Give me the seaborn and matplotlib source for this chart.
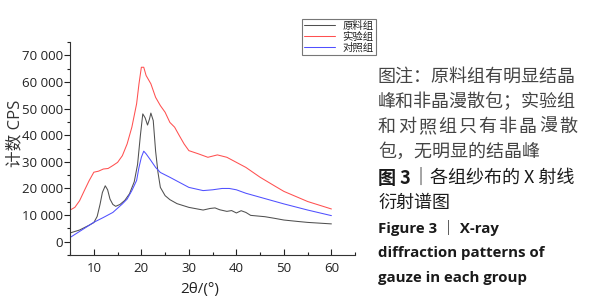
import pandas as pd
import matplotlib.pyplot as plt
import numpy as np
import seaborn as sns
from matplotlib.ticker import FuncFormatter, MultipleLocator

sns.set_style("ticks")
plt.rcParams['font.family'] = ['Open Sans', 'Noto Sans CJK SC', 'DejaVu Sans']

# 原料组 (raw material)
x_raw = [5, 7, 8, 9, 10, 10.7, 11.3, 11.8, 12.4, 12.9, 13.4, 14, 14.6, 15.5, 16.5, 17.5, 18.5, 19.2,
         19.8, 20.3, 20.8, 21.3, 21.7, 22.0, 22.5, 23.0, 23.5, 24.0, 25, 26, 27.5, 30, 33, 34.5,
         35.5, 36.5, 38, 39, 40, 41, 42, 43, 46, 48, 50, 53, 55, 60]
y_raw = [3300, 4400, 5300, 6200, 7200, 9500, 14000, 18500, 21000, 19500, 16000, 14000, 13300, 14000,
         15500, 18000, 22500, 29000, 40000, 48000, 46500, 43800, 46000, 48300, 45500, 34000, 26000,
         20400, 17300, 15800, 14300, 12900, 11900, 12500, 12700, 12000, 11400, 11700, 10800, 11650,
         11000, 9900, 9400, 8800, 8150, 7600, 7260, 6700]

# 实验组 (experimental)
x_exp = [5, 6, 7, 8, 9, 10, 11, 12, 13, 14, 15, 16, 17, 18, 19, 19.5, 20, 20.5, 21, 22, 23, 24, 25,
         26, 27, 28, 29, 30, 32, 34, 36, 38, 40, 42, 45, 48, 50, 55, 60]
y_exp = [11900, 12900, 15400, 19200, 22900, 26100, 26500, 27300, 27500, 28600, 29800, 32300, 36700,
         43000, 51800, 59300, 65500, 65500, 62400, 59300, 54200, 51100, 48600, 44800, 43000, 39800,
         36700, 34200, 33000, 31700, 32600, 31700, 29800, 27900, 24200, 21000, 18900, 15100, 12300]

# 对照组 (control)
x_ctl = [5, 8, 10, 12, 14, 16, 17, 18, 19, 19.5, 20, 20.5, 21, 22, 23, 24, 26, 28, 30, 33, 35, 37,
         38.5, 40, 42, 45, 50, 55, 60]
y_ctl = [1600, 5000, 7300, 9100, 11000, 14200, 16000, 19200, 23000, 27900, 31700, 34000, 33000, 30500,
         27900, 26000, 24200, 22300, 20400, 19200, 19500, 20000, 20000, 19500, 18200, 16700, 14200,
         11900, 9800]

groups = ['原料组', '实验组', '对照组']
colors = ['#505050', '#ff5050', '#5050ff']

df = pd.concat([
    pd.DataFrame({'x': x_raw, 'y': y_raw, 'group': groups[0]}),
    pd.DataFrame({'x': x_exp, 'y': y_exp, 'group': groups[1]}),
    pd.DataFrame({'x': x_ctl, 'y': y_ctl, 'group': groups[2]}),
])

fig = plt.figure(figsize=(5.89, 3.04), dpi=100)
ax = fig.add_axes([0.119, 0.161, 0.484, 0.701])

sns.lineplot(data=df, x='x', y='y', hue='group', palette=dict(zip(groups, colors)),
             estimator=None, sort=False, linewidth=0.75, ax=ax, legend=True)

ax.set_xlim(5, 65)
ax.set_ylim(-5000, 75000)
ax.xaxis.set_minor_locator(MultipleLocator(5))
ax.yaxis.set_minor_locator(MultipleLocator(5000))
ax.set_xticks([10, 20, 30, 40, 50, 60])
ax.set_yticks(range(0, 70001, 10000))
ax.yaxis.set_major_formatter(FuncFormatter(lambda v, p: f'{int(v):,}'.replace(',', ' ')))
ax.tick_params(axis='x', which='both', direction='in', labelsize=9.5, colors='#222222', pad=5)
ax.tick_params(axis='x', which='major', length=4, width=0.8)
ax.tick_params(axis='x', which='minor', length=2.5, width=0.8)
ax.tick_params(axis='y', which='both', direction='out', labelsize=9.5, colors='#222222', pad=1)
ax.tick_params(axis='y', which='major', length=4, width=0.8)
ax.tick_params(axis='y', which='minor', length=2.5, width=0.8)
for s in ['left', 'bottom']:
    ax.spines[s].set_color('#333333')
    ax.spines[s].set_linewidth(0.8)
sns.despine(ax=ax)

ax.set_xlabel('2θ/(°)', fontsize=11, color='#222222', labelpad=3)
ax.xaxis.set_label_coords(0.456, -0.125)
ax.set_ylabel('计数 CPS', fontsize=12, color='#333333')
ax.yaxis.set_label_coords(-0.165, 0.573)

h, l = ax.get_legend_handles_labels()
ax.get_legend().remove()
leg = fig.legend(h, l, loc='upper left', bbox_to_anchor=(302 / 589, 1 - 19 / 304),
                 fontsize=7.5, frameon=True, fancybox=False, handlelength=3.0,
                 labelspacing=0.05, borderpad=0.2, handletextpad=0.7, borderaxespad=0)
leg.get_frame().set_edgecolor('#555555')
leg.get_frame().set_linewidth(0.8)
for t in leg.get_texts():
    t.set_family(['Noto Sans CJK SC'])
    t.set_color('#222222')

x0 = 378 / 589
note = ['图注：原料组有明显结晶', '峰和非晶漫散包；实验组', '和对照组只有非晶漫散', '包，无明显的结晶峰']
note_y = [77, 102, 127, 152]
for s, yy in zip(note, note_y):
    if len(s) == 10:
        # justified line: spread characters over the full line width
        for i, ch in enumerate(s):
            fig.text((378 + i * 20.1) / 589, 1 - yy / 304, ch, fontsize=13, color='#444444',
                     va='center', family=['Noto Sans CJK SC'])
    else:
        fig.text(x0, 1 - yy / 304, s, fontsize=13, color='#444444', va='center',
                 family=['Noto Sans CJK SC'])

fig.text(x0, 1 - 178 / 304, '图 3', fontsize=13, color='#1a1a1a', fontweight='bold',
         va='center', family=['Noto Sans CJK SC'])
fig.text(412 / 589, 1 - 178 / 304, '｜各组纱布的 X 射线', fontsize=13, color='#1a1a1a',
         va='center', family=['Noto Sans CJK SC'])
fig.text(x0, 1 - 203 / 304, '衍射谱图', fontsize=13, color='#1a1a1a', va='center',
         family=['Noto Sans CJK SC'])
eng = ['Figure 3 ｜ X-ray', 'diffraction patterns of', 'gauze in each group']
eng_y = [228, 253, 278]
for s, yy in zip(eng, eng_y):
    fig.text(x0, 1 - yy / 304, s, fontsize=10.8, fontweight='bold', color='#1a1a1a',
             va='center', family=['Open Sans', 'Noto Sans CJK SC'])

plt.savefig('out.png', dpi=100)
